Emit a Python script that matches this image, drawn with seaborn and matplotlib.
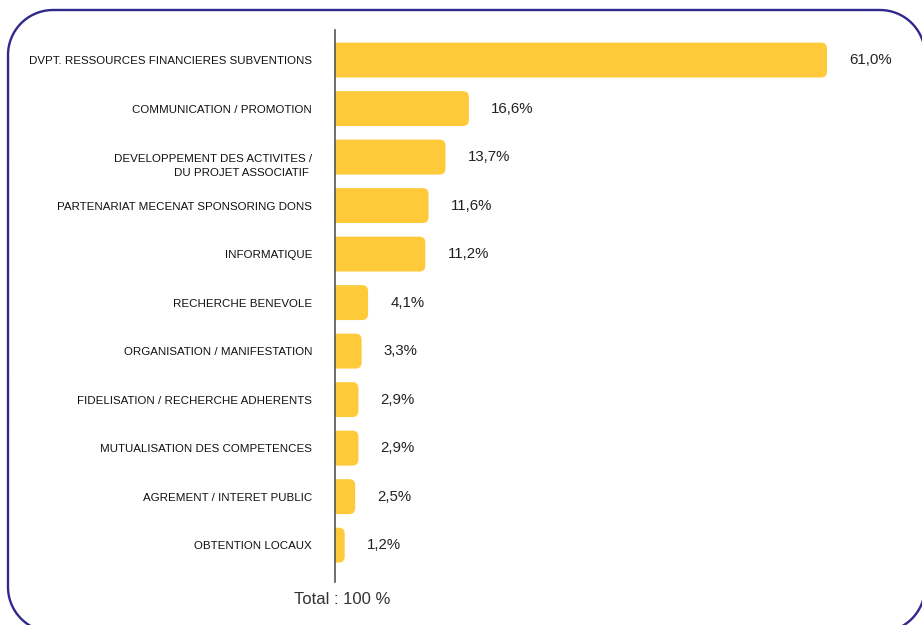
import matplotlib
matplotlib.use("Agg")
import matplotlib.pyplot as plt
from matplotlib.patches import FancyBboxPatch
from matplotlib.transforms import ScaledTranslation
import seaborn as sns
import pandas as pd
import numpy as np

categories = [
    "DVPT. RESSOURCES FINANCIERES SUBVENTIONS",
    "COMMUNICATION / PROMOTION",
    "DEVELOPPEMENT DES ACTIVITES /\nDU PROJET ASSOCIATIF ",
    "PARTENARIAT MECENAT SPONSORING DONS",
    "INFORMATIQUE",
    "RECHERCHE BENEVOLE",
    "ORGANISATION / MANIFESTATION",
    "FIDELISATION / RECHERCHE ADHERENTS",
    "MUTUALISATION DES COMPETENCES",
    "AGREMENT / INTERET PUBLIC",
    "OBTENTION LOCAUX",
]
values = [61.0, 16.6, 13.7, 11.6, 11.2, 4.1, 3.3, 2.9, 2.9, 2.5, 1.2]
value_labels = ["61,0%", "16,6%", "13,7%", "11,6%", "11,2%", "4,1%", "3,3%", "2,9%", "2,9%", "2,5%", "1,2%"]
total_label = "Total : 100 %"

sns.set_theme(style="white")
plt.rcParams["font.family"] = ["Liberation Sans", "DejaVu Sans"]

W, H = 922, 625
fig = plt.figure(figsize=(W / 100, H / 100), dpi=100)
fig.patch.set_facecolor("white")

# Background axes in pixel units for the rounded frame
bg = fig.add_axes([0, 0, 1, 1], zorder=-1)
bg.set_xlim(0, W)
bg.set_ylim(H, 0)
bg.axis("off")

def rounded_rect(x0, y0, x1, y1, r, n=40):
    pts = []
    corners = [
        (x1 - r, y0 + r, -90, 0),
        (x1 - r, y1 - r, 0, 90),
        (x0 + r, y1 - r, 90, 180),
        (x0 + r, y0 + r, 180, 270),
    ]
    for cx, cy, a0, a1 in corners:
        t = np.radians(np.linspace(a0, a1, n))
        pts.append(np.column_stack([cx + r * np.cos(t), cy + r * np.sin(t)]))
    pts = np.vstack(pts + [pts[0][:1]])
    return pts[:, 0], pts[:, 1]

fx, fy = rounded_rect(8, 10, 925, 632, 45)
bg.plot(fx, fy, color="#30288C", lw=1.7, clip_on=False, solid_joinstyle="round")

ax_left, ax_right, ax_top, ax_bottom = 335, 900, 30, 582
ax = fig.add_axes([ax_left / W, (H - ax_bottom) / H, (ax_right - ax_left) / W, (ax_bottom - ax_top) / H])

df = pd.DataFrame({"cat": categories, "val": values})
bar_color = "#FFCA3A"
sns.barplot(data=df, y="cat", x="val", orient="h", color=bar_color, width=0.72,
            saturation=1, ax=ax)

px_per_unit = 8.066
xmax = (ax_right - ax_left) / px_per_unit
ax.set_xlim(0, xmax)
ax.set_ylim(10.76, -0.62)

y_px_per_unit = (ax_bottom - ax_top) / (10.76 + 0.62)
radius_px = 6
r_x = radius_px / px_per_unit
aspect = (radius_px / y_px_per_unit) / r_x
for p in list(ax.patches):
    x0, y0, w, h = p.get_x(), p.get_y(), p.get_width(), p.get_height()
    p.remove()
    fb = FancyBboxPatch((x0 - 2 * r_x, y0), w + 2 * r_x, h,
                        boxstyle=f"round,pad=0,rounding_size={r_x}",
                        mutation_aspect=aspect, facecolor=bar_color,
                        edgecolor="none", clip_on=True)
    ax.add_patch(fb)

for i, (v, lab) in enumerate(zip(values, value_labels)):
    ax.annotate(lab, xy=(v, i), xytext=(16, 0), textcoords="offset points",
                ha="left", va="center", fontsize=10.8, color="#222222")

for s in ["top", "right", "bottom"]:
    ax.spines[s].set_visible(False)
ax.spines["left"].set_color("#555555")
ax.spines["left"].set_linewidth(1.2)
ax.set_xticks([])
ax.set_xlabel("")
ax.set_ylabel("")
ax.tick_params(axis="y", length=0, pad=16.5, labelsize=8.25, colors="#111111")
for t in ax.get_yticklabels():
    t.set_linespacing(1.45)
    if "\n" in t.get_text():
        t.set_transform(t.get_transform() + ScaledTranslation(0, -0.06, fig.dpi_scale_trans))
ax.set_facecolor("none")

fig.text(342 / W, 1 - 599 / H, total_label, ha="center", va="center", fontsize=12, color="#333333")

fig.savefig("out.png", dpi=100, facecolor="white")
